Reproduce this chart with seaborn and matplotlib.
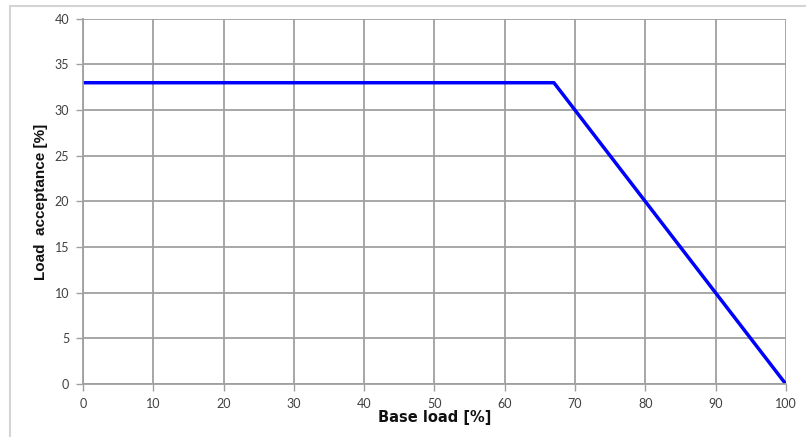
import matplotlib
matplotlib.use("Agg")
import matplotlib.pyplot as plt
import seaborn as sns
import pandas as pd

# Load acceptance curve
base_load = [0, 67, 100]
load_acceptance = [33, 33, 0]

x_ticks = [0, 10, 20, 30, 40, 50, 60, 70, 80, 90, 100]
y_ticks = [0, 5, 10, 15, 20, 25, 30, 35, 40]

df = pd.DataFrame({"base": base_load, "acceptance": load_acceptance})

sns.set_theme(style="white")
plt.rcParams["font.family"] = ["Lato", "DejaVu Sans"]

fig = plt.figure(figsize=(8.06, 4.37), dpi=100)
ax = fig.add_axes([0.103, 0.121, 0.872, 0.836])

# light frame around the whole figure (top and left edges)
fig.add_artist(plt.Line2D([10 / 806, 1.0], [1 - 6 / 437, 1 - 6 / 437],
                          transform=fig.transFigure, color="#d4d4d4", lw=1.5))
fig.add_artist(plt.Line2D([10 / 806, 10 / 806], [0.0, 1 - 6 / 437],
                          transform=fig.transFigure, color="#d4d4d4", lw=1.5))

sns.lineplot(data=df, x="base", y="acceptance", ax=ax, color="#0000ff", lw=2.5)

ax.set_xlim(0, 100)
ax.set_ylim(0, 40)
ax.set_xticks(x_ticks)
ax.set_yticks(y_ticks)
ax.grid(True, color="#a0a0a0", lw=1.3)
ax.set_axisbelow(True)
for side, sp in ax.spines.items():
    sp.set_visible(side in ("left", "bottom"))
    sp.set_color("#a0a0a0")
    sp.set_linewidth(1.3)

ax.tick_params(axis="both", which="major", direction="out", length=5, width=1,
               color="#a0a0a0", labelsize=9, labelcolor="#404040", pad=5,
               left=True, bottom=True)

ax.set_xlabel("Base load [%]", fontsize=10.5, fontweight="bold",
              family=["DejaVu Sans"], color="#111111", labelpad=0)
ax.set_ylabel("Load  acceptance [%]", fontsize=11, fontweight="bold",
              family=["Liberation Sans Narrow", "Liberation Sans", "DejaVu Sans"],
              color="#111111", labelpad=5)

fig.savefig("out.png", dpi=100, facecolor="white")
